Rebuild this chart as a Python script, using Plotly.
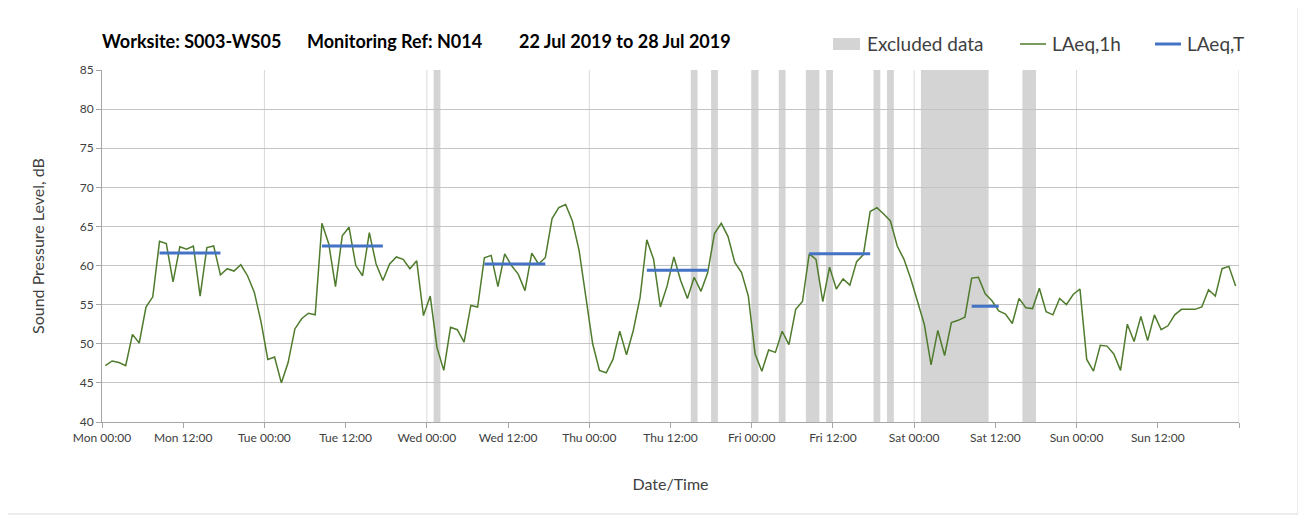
import plotly.graph_objects as go
import pandas as pd

# ---------------- data ----------------
start_time = "2019-07-22 00:00"

# hourly LAeq,1h values (dB), Mon 00:00 .. Sun 23:00
laeq_1h = [
    47.2, 47.8, 47.6, 47.2, 51.2, 50.1, 54.7, 56.0, 63.1, 62.8, 57.9, 62.4,
    62.1, 62.5, 56.1, 62.3, 62.5, 58.8, 59.6, 59.3, 60.1, 58.7, 56.6, 52.8,
    48.0, 48.3, 45.0, 47.6, 51.9, 53.2, 53.9, 53.7, 65.4, 62.8, 57.3, 63.8,
    64.9, 60.0, 58.7, 64.2, 60.2, 58.1, 60.2, 61.1, 60.8, 59.6, 60.6, 53.6,
    56.1, 49.5, 46.6, 52.1, 51.8, 50.2, 54.9, 54.7, 61.0, 61.3, 57.3, 61.5,
    60.0, 58.9, 56.8, 61.6, 60.2, 61.0, 66.0, 67.4, 67.8, 65.7, 61.9, 56.0,
    50.0, 46.6, 46.3, 48.0, 51.6, 48.6, 51.7, 55.9, 63.3, 60.8, 54.7, 57.4,
    61.1, 58.1, 55.8, 58.5, 56.7, 59.1, 64.1, 65.4, 63.7, 60.4, 59.1, 56.1,
    48.7, 46.5, 49.2, 48.9, 51.6, 49.9, 54.4, 55.4, 61.5, 60.8, 55.4, 59.8,
    57.0, 58.3, 57.5, 60.5, 61.4, 66.9, 67.4, 66.6, 65.7, 62.5, 60.8, 58.3,
    55.5, 52.5, 47.3, 51.7, 48.5, 52.7, 53.0, 53.4, 58.4, 58.5, 56.4, 55.5,
    54.2, 53.8, 52.6, 55.8, 54.6, 54.5, 57.1, 54.1, 53.7, 55.8, 55.0, 56.3,
    57.0, 48.0, 46.5, 49.8, 49.7, 48.7, 46.6, 52.5, 50.3, 53.5, 50.4, 53.7,
    51.8, 52.3, 53.7, 54.4, 54.4, 54.4, 54.7, 56.9, 56.1, 59.6, 59.9, 57.4,
]

# LAeq,T periods: start hour, end hour (hours from Mon 00:00), value
laeq_t_start = [8, 32, 56, 80, 104, 128]
laeq_t_end = [18, 42, 66, 90, 114, 133]
laeq_t_value = [61.6, 62.5, 60.2, 59.4, 61.5, 54.8]

# excluded hours (hours from Mon 00:00)
excluded_hours = [49, 87, 90, 96, 100, 104, 105, 107, 114, 116,
                  121, 122, 123, 124, 125, 126, 127, 128, 129, 130, 136, 137]

title_parts = ["Worksite: S003-WS05", "Monitoring Ref: N014", "22 Jul 2019 to 28 Jul 2019"]
legend_labels = ["Excluded data", "LAeq,1h", "LAeq,T"]
y_ticks = [40, 45, 50, 55, 60, 65, 70, 75, 80, 85]

# ---------------- build ----------------
t0 = pd.Timestamp(start_time)
H = pd.Timedelta(hours=1)
x_hourly = [t0 + (i + 0.5) * H for i in range(len(laeq_1h))]

fig = go.Figure()

GREEN = "#4f7b2c"
BLUE = "#4472c4"
GREY_BAND = "#d4d4d4"

fig.add_trace(go.Scatter(
    x=x_hourly, y=laeq_1h, mode="lines", name="LAeq,1h",
    line=dict(color=GREEN, width=1.5), showlegend=False,
))

for s, e, v in zip(laeq_t_start, laeq_t_end, laeq_t_value):
    fig.add_trace(go.Scatter(
        x=[t0 + (s + 0.5) * H, t0 + (e - 0.5) * H], y=[v, v],
        mode="lines", name="LAeq,T", line=dict(color=BLUE, width=3),
        showlegend=False,
    ))

shapes = []
bands = []
for h in sorted(excluded_hours):
    if bands and bands[-1][1] == h:
        bands[-1][1] = h + 1
    else:
        bands.append([h, h + 1])
for a, b in bands:
    shapes.append(dict(type="rect", xref="x", yref="paper",
                       x0=t0 + a * H, x1=t0 + b * H, y0=0, y1=1,
                       fillcolor=GREY_BAND, line=dict(width=0), layer="below"))
for d in range(1, 8):
    shapes.append(dict(type="line", xref="x", yref="paper",
                       x0=t0 + d * 24 * H, x1=t0 + d * 24 * H, y0=0, y1=1,
                       line=dict(color="#d9d9d9", width=1), layer="below"))

# layout geometry (screen has an 8px page offset)
OFF = 8
W, HH = 1306, 522
PLOT_L, PLOT_R, PLOT_T, PLOT_B = 102, 1239, 70, 422  # screen px
L = PLOT_L - OFF
T = PLOT_T - OFF
R = W - PLOT_R - OFF
B = HH - (PLOT_B - OFF)
pw, ph = PLOT_R - PLOT_L, PLOT_B - PLOT_T
B = HH - T - ph
R = W - L - pw


def px_x(p):
    return (p - PLOT_L) / pw


def px_y(p):
    return (PLOT_B - p) / ph


shapes.append(dict(type="rect", xref="paper", yref="paper",
                   x0=px_x(7), x1=px_x(1298), y0=px_y(514), y1=px_y(7),
                   line=dict(color="#d9d9d9", width=1), fillcolor="rgba(0,0,0,0)",
                   layer="below"))

LEG_Y = 44
shapes.append(dict(type="rect", xref="paper", yref="paper",
                   x0=px_x(833), x1=px_x(860), y0=px_y(50), y1=px_y(38),
                   fillcolor=GREY_BAND, line=dict(width=0)))
shapes.append(dict(type="line", xref="paper", yref="paper",
                   x0=px_x(1020), x1=px_x(1046), y0=px_y(LEG_Y), y1=px_y(LEG_Y),
                   line=dict(color=GREEN, width=1.5)))
shapes.append(dict(type="line", xref="paper", yref="paper",
                   x0=px_x(1155), x1=px_x(1181), y0=px_y(LEG_Y), y1=px_y(LEG_Y),
                   line=dict(color=BLUE, width=3)))

annotations = []
for txt, xp in zip(legend_labels, [865, 1050, 1185]):
    annotations.append(dict(text=txt, xref="paper", yref="paper", x=px_x(xp), y=px_y(LEG_Y),
                            xanchor="left", yanchor="middle", showarrow=False,
                            font=dict(size=19, color="#404040")))
for txt, xp in zip(title_parts, [100, 305, 517]):
    annotations.append(dict(text="<b>" + txt + "</b>", xref="paper", yref="paper",
                            x=px_x(xp), y=px_y(41), xanchor="left", yanchor="middle",
                            showarrow=False, font=dict(size=18, color="#000000")))

tickvals = [t0 + k * 12 * H for k in range(15)]
ticktext = [t.strftime("%a %H:%M") for t in tickvals]
ticktext[-1] = ""

fig.update_layout(
    width=W, height=HH,
    margin=dict(l=L, r=R, t=T, b=B),
    paper_bgcolor="white", plot_bgcolor="white",
    font=dict(family="Lato", color="#404040"),
    shapes=shapes, annotations=annotations, showlegend=False,
    xaxis=dict(
        type="date", range=[t0, t0 + 168 * H],
        tickmode="array", tickvals=tickvals, ticktext=ticktext,
        ticks="outside", ticklen=5, tickcolor="#a6a6a6",
        showline=True, linecolor="#a6a6a6", linewidth=1,
        showgrid=False, zeroline=False,
        tickfont=dict(size=12, color="#404040"),
        title=dict(text="Date/Time", font=dict(size=16, color="#404040"), standoff=34),
        automargin=False,
    ),
    yaxis=dict(
        range=[40, 85], tickmode="array", tickvals=y_ticks,
        ticks="outside", ticklen=5, tickcolor="#a6a6a6",
        showline=True, linecolor="#a6a6a6", linewidth=1,
        showgrid=True, gridcolor="#c4c4c4", gridwidth=1, zeroline=False,
        tickfont=dict(size=12, color="#404040"),
        title=dict(text="Sound Pressure Level, dB", font=dict(size=16, color="#404040"), standoff=31),
        automargin=False,
    ),
)

fig.write_html("out.html")
